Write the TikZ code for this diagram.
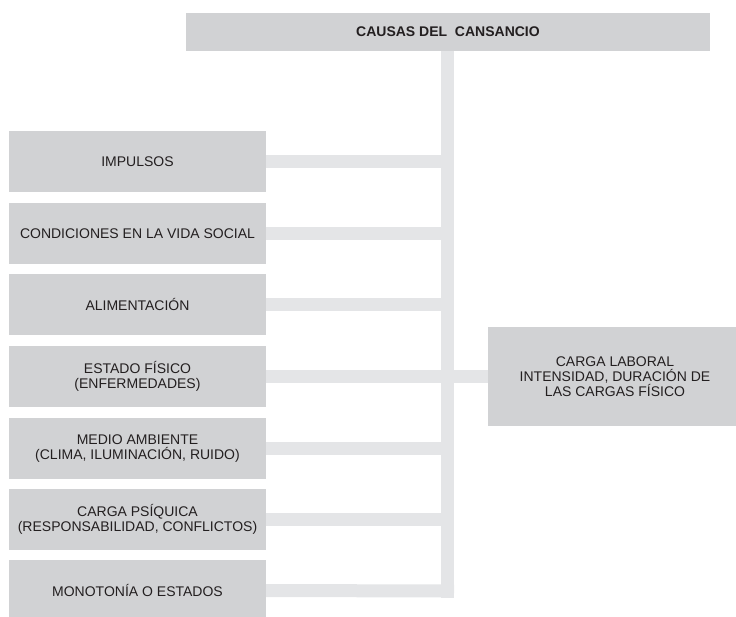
\documentclass[tikz,border=0pt]{standalone}
\usepackage{fontspec}
\setmainfont{Liberation Sans}
\definecolor{boxgray}{RGB}{209,210,212}
\definecolor{conngray}{RGB}{228,229,231}
\definecolor{txt}{RGB}{35,31,32}
\begin{document}
\begin{tikzpicture}[x=1pt,y=1pt,
  box/.style={fill=boxgray, draw=none, inner sep=0pt, align=center, text=txt,
    font=\fontsize{14}{15}\selectfont},
  leftbox/.style={box, minimum width=257pt, minimum height=61pt},
  conn/.style={draw=conngray, line width=13pt, line cap=butt}]
\useasboundingbox (0,0) rectangle (736,-616);
\coordinate (bartop) at (447.5,-51);
\coordinate (barend) at (447.5,-597.5);
\coordinate (barbot) at (454,-591);
\node[leftbox] (imp)  at (137.5,-161.5) {IMPULSOS};
\node[leftbox] (cond) at (137.5,-233.5) {CONDICIONES EN LA VIDA SOCIAL};
\node[leftbox] (ali)  at (137.5,-304.5) {ALIMENTACIÓN};
\node[leftbox] (est)  at (137.5,-376.5) {ESTADO FÍSICO\\(ENFERMEDADES)};
\node[leftbox] (med)  at (137.5,-448.5) {MEDIO AMBIENTE\\(CLIMA, ILUMINACIÓN, RUIDO)};
\node[leftbox] (psi)  at (137.5,-519.5) {CARGA PSÍQUICA\\(RESPONSABILIDAD, CONFLICTOS)};
\node[leftbox] (mono) at (137.5,-590.5) {MONOTONÍA O ESTADOS};
\node[box, minimum width=524pt, minimum height=38pt, font=\bfseries\fontsize{14}{15}\selectfont]
  (top) at (448,-32) {CAUSAS DEL\ \ CANSANCIO};
\node[box, minimum width=254pt, minimum height=99pt] (carga) at (615,-376.5)
  {CARGA LABORAL\\INTENSIDAD, DURACIÓN DE\\LAS CARGAS FÍSICO};
\draw[conn] (bartop) -- (barend);
\foreach \n in {imp,cond,ali,est,med,psi} {
  \draw[conn] (\n.east) -- (\n.east -| bartop);
}
\draw[conn] (mono.east) -- (barbot);
\draw[conn] (bartop |- carga.west) -- (carga.west);
\end{tikzpicture}
\end{document}
